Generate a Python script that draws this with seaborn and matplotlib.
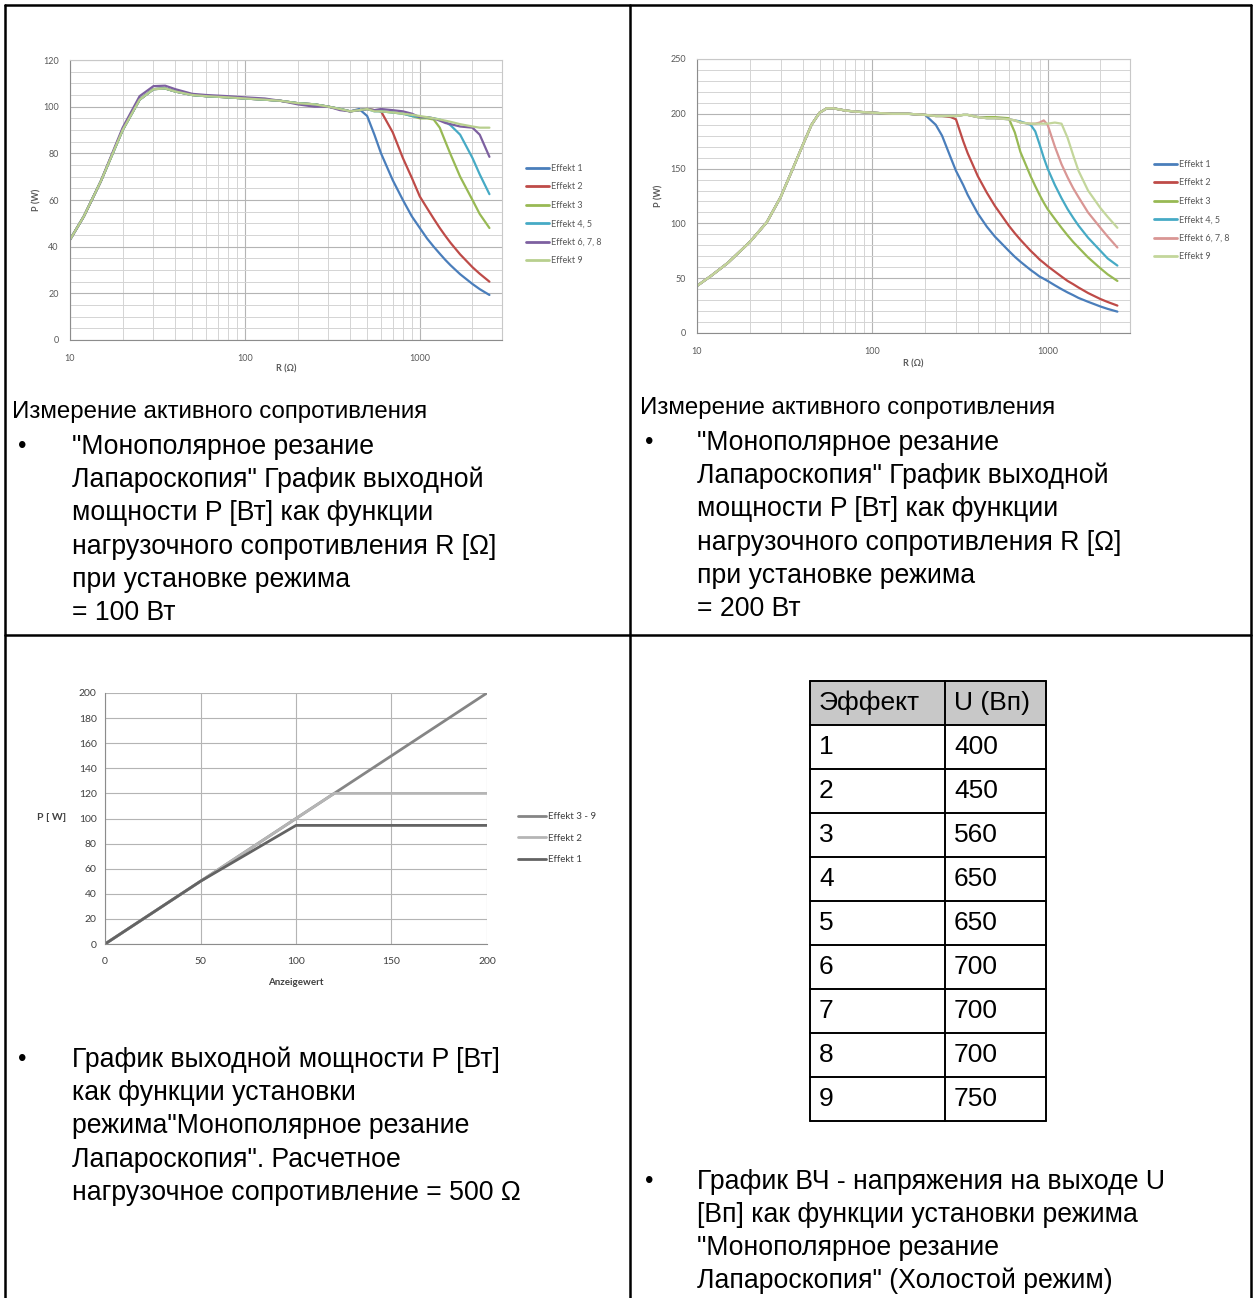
import matplotlib
matplotlib.use("Agg")
import matplotlib.pyplot as plt
from matplotlib.ticker import MultipleLocator, NullFormatter
from matplotlib.patches import Rectangle
import seaborn as sns
import pandas as pd

W, H = 1255, 1298

# ---- chart 1: P vs R at 100 W setting ----
r100_head = [10, 12, 15, 20, 25, 30, 35, 40, 50, 60, 80, 100, 130, 160, 200, 250, 300, 350, 400]
r100_tail = [450, 500, 550, 600, 700, 800, 900, 1000, 1100, 1200, 1300, 1400, 1500, 1700, 2000, 2200, 2500]
p100_head = [43, 53, 68, 90, 103, 107.5, 107.8, 106.5, 105, 104.5, 104, 103.5, 103, 102.5, 101.5, 101, 100, 99, 98]
p100_head_b = [43, 53, 68, 91, 104.5, 108.8, 109, 107.5, 105.5, 105, 104.5, 104, 103.5, 102.5, 101, 100, 100, 98.5, 98]
p100_e1 = [99, 96, 88, 80, 68.5, 60, 53, 48, 43.5, 40, 37, 34.3, 32, 28.2, 24, 21.8, 19.3]
p100_e2 = [98.5, 99, 98.5, 98, 89, 78, 69.5, 61.5, 56.5, 52, 48, 44.6, 41.6, 36.7, 31.2, 28.4, 25]
p100_e3 = [98.5, 99, 98.5, 98, 97.5, 97, 96, 95, 95, 94.5, 91, 85, 79.5, 70, 60, 54, 48]
p100_e45 = [98.5, 99, 98, 98, 97.5, 97, 96, 95.5, 95.5, 95, 94.5, 93.5, 92, 88, 78, 71, 62.5]
p100_e678 = [98.5, 99, 98.5, 99, 98.5, 98, 97, 95.5, 95.5, 95, 94, 93, 92.5, 91.5, 91, 88, 78.5]
p100_e9 = [98.5, 99, 98, 98, 97.5, 97, 96.5, 96, 95.5, 95, 94.5, 94, 93.5, 92.5, 91.5, 91, 91]

# ---- chart 2: P vs R at 200 W setting ----
r200_head = [10, 12, 15, 20, 25, 30, 35, 40, 45, 50, 55, 60, 70, 80, 100, 130, 160, 200]
r200_tail = [230, 250, 280, 300, 330, 350, 400, 450, 500, 600, 650, 700, 800, 850, 900, 950,
             1000, 1100, 1200, 1300, 1400, 1500, 1700, 2000, 2200, 2500]
p200_head = [43, 52, 64, 83, 101, 124, 149, 171, 190, 201, 205, 205, 203, 202, 201, 200, 200, 199]
p200_e1 = [190, 180, 160, 148, 135, 126, 109, 97, 88, 75, 69.5, 65, 57.5, 54.5, 51.5, 49.5,
           47.5, 43.5, 40, 37, 34.5, 32, 28.5, 24.2, 22, 19.5]
p200_e2 = [198, 198, 197, 195, 175, 164, 143, 128, 116, 98, 91, 85, 75, 71, 67, 64,
           61, 56, 51.5, 47.5, 44.5, 41.5, 36.5, 31, 28.3, 25]
p200_e3 = [198, 198, 198, 198, 199, 199, 197, 197, 197, 196, 183, 165, 143, 134, 126, 119,
           113, 104, 96, 89, 83, 78, 69, 59, 53.5, 47.5]
p200_e45 = [198, 198, 198, 198, 199, 199, 197, 196, 196, 195, 194, 193, 190, 184, 172, 160,
            150, 135, 123, 113, 105, 98, 87, 75, 68, 61.5]
p200_e678 = [198, 198, 198, 198, 199, 199, 197, 196, 196, 195, 194, 192, 191, 191, 192, 194,
             190, 170, 154, 142, 132, 124, 110, 96, 88, 78]
p200_e9 = [198, 198, 198, 198, 199, 199, 197, 196, 196, 195, 194, 192, 191, 191, 191, 191,
           191, 192, 191, 178, 162, 148, 130, 114, 106, 96]

effekt_names = ['Effekt 1', 'Effekt 2', 'Effekt 3', 'Effekt 4, 5', 'Effekt 6, 7, 8', 'Effekt 9']

# ---- chart 3: P vs Anzeigewert at 500 Ohm ----
anzeige = [0, 50, 100, 120, 150, 200]
p_e39 = [0, 50, 100, 120, 150, 200]
p_e2 = [0, 50, 100, 120, 120, 120]
p_e1 = [0, 50, 94.5, 94.5, 94.5, 94.5]

# ---- table ----
tab_header = ['Эффект', 'U (Вп)']
effekt_nr = ['1', '2', '3', '4', '5', '6', '7', '8', '9']
u_peak = ['400', '450', '560', '650', '650', '700', '700', '700', '750']

colors1 = ['#4a7ebb', '#be4b48', '#98b954', '#46aac5', '#7d60a0', '#b8cf8e']
colors2 = ['#4a7ebb', '#be4b48', '#98b954', '#46aac5', '#d99694', '#c3d69b']

sns.set_style("white")
plt.rcParams['font.family'] = ['Liberation Sans', 'DejaVu Sans']
plt.rcParams['text.color'] = 'black'
body_font = ['Liberation Sans', 'DejaVu Sans']
chart_font = ['Lato', 'DejaVu Sans']
tick_col = '#595959'

fig = plt.figure(figsize=(W / 100, H / 100), dpi=100)
page = fig.add_axes([0, 0, 1, 1])
page.set_xlim(0, W)
page.set_ylim(H, 0)
page.axis('off')


def px_axes(l, t, r, b):
    return fig.add_axes([l / W, 1 - b / H, (r - l) / W, (b - t) / H])


def long_df(xs, series, names, xname, yname):
    rows = []
    for name, ys in zip(names, series):
        for x, y in zip(xs, ys):
            rows.append((x, y, name))
    return pd.DataFrame(rows, columns=[xname, yname, 'Effekt'])


def style_log_chart(ax, ymax, ymajor, yminor):
    ax.set_xscale('log')
    ax.set_xlim(10, 2950)
    ax.set_ylim(0, ymax)
    ax.set_xticks([10, 100, 1000])
    ax.set_xticklabels(['10', '100', '1000'])
    ax.xaxis.set_minor_formatter(NullFormatter())
    ax.yaxis.set_major_locator(MultipleLocator(ymajor))
    ax.yaxis.set_minor_locator(MultipleLocator(yminor))
    ax.grid(which='major', color='#b4b4b4', lw=0.8)
    ax.grid(which='minor', color='#d4d4d4', lw=0.7)
    ax.set_axisbelow(True)
    for s in ax.spines.values():
        s.set_color('#c8c8c8')
        s.set_linewidth(0.8)
    ax.spines['left'].set_color('#8c8c8c')
    ax.spines['bottom'].set_color('#8c8c8c')
    ax.tick_params(which='major', axis='both', direction='out', length=3, width=0.7,
                   color='#8c8c8c', labelsize=6.5, labelcolor=tick_col, pad=5)
    ax.tick_params(which='minor', axis='x', length=0)
    ax.tick_params(which='minor', axis='y', length=0)
    ax.tick_params(axis='x', pad=7)
    for lab in ax.get_xticklabels() + ax.get_yticklabels():
        lab.set_family(chart_font)


def chart_legend(ax, x, y, spacing, fs, hl):
    handles, labels = ax.get_legend_handles_labels()
    leg = ax.legend(handles, labels, loc='upper left', bbox_to_anchor=(x, y),
                    bbox_transform=page.transData, frameon=False, fontsize=fs,
                    handlelength=hl, handletextpad=0.15, labelspacing=spacing,
                    borderpad=0, borderaxespad=0)
    for t in leg.get_texts():
        t.set_color(tick_col)
        t.set_family(chart_font)
    for h in leg.get_lines():
        h.set_linewidth(2)


# ---- chart 1 ----
ax1 = px_axes(70, 60, 502, 340)
r100 = r100_head + r100_tail
s100 = [p100_head + p100_e1, p100_head + p100_e2, p100_head + p100_e3,
        p100_head + p100_e45, p100_head_b + p100_e678, p100_head + p100_e9]
df1 = long_df(r100, s100, effekt_names, 'R', 'P')
sns.lineplot(data=df1, x='R', y='P', hue='Effekt', palette=colors1, estimator=None,
             linewidth=1.6, ax=ax1)
style_log_chart(ax1, 120, 20, 5)
ax1.set_xlabel('R (Ω)', fontsize=6.5, fontweight='bold', color=tick_col, family=chart_font)
ax1.set_ylabel('P (W)', fontsize=6.5, fontweight='bold', color=tick_col, family=chart_font)
ax1.xaxis.set_label_coords(0.5, -0.104)
ax1.xaxis.label.set_va('center')
ax1.yaxis.set_label_coords(-0.076, 0.5)
ax1.yaxis.label.set_va('center')
chart_legend(ax1, 526, 164, 1.05, 6.5, 2.6)

# ---- chart 2 ----
ax2 = px_axes(697, 59, 1130, 333)
r200 = r200_head + r200_tail
s200 = [p200_head + p200_e1, p200_head + p200_e2, p200_head + p200_e3,
        p200_head + p200_e45, p200_head + p200_e678, p200_head + p200_e9]
df2 = long_df(r200, s200, effekt_names, 'R', 'P')
sns.lineplot(data=df2, x='R', y='P', hue='Effekt', palette=colors2, estimator=None,
             linewidth=1.6, ax=ax2)
style_log_chart(ax2, 250, 50, 10)
ax2.set_xlabel('R (Ω)', fontsize=6.5, fontweight='bold', color=tick_col, family=chart_font)
ax2.set_ylabel('P (W)', fontsize=6.5, fontweight='bold', color=tick_col, family=chart_font)
ax2.xaxis.set_label_coords(0.5, -0.113)
ax2.xaxis.label.set_va('center')
ax2.yaxis.set_label_coords(-0.088, 0.5)
ax2.yaxis.label.set_va('center')
chart_legend(ax2, 1154, 160, 1.05, 6.5, 2.6)

# ---- chart 3 ----
ax3 = px_axes(105, 693, 487, 944)
df3 = long_df(anzeige, [p_e39, p_e2, p_e1], ['Effekt 3 - 9', 'Effekt 2', 'Effekt 1'],
              'Anzeigewert', 'P')
sns.lineplot(data=df3, x='Anzeigewert', y='P', hue='Effekt',
             palette=['#858585', '#b5b5b5', '#636363'], estimator=None, linewidth=2, ax=ax3)
ax3.set_xlim(0, 200)
ax3.set_ylim(0, 200)
ax3.xaxis.set_major_locator(MultipleLocator(50))
ax3.yaxis.set_major_locator(MultipleLocator(20))
ax3.grid(color='#b4b4b4', lw=0.8)
ax3.set_axisbelow(True)
ax3.spines['top'].set_visible(False)
ax3.spines['right'].set_visible(False)
ax3.spines['left'].set_color('#8c8c8c')
ax3.spines['bottom'].set_color('#8c8c8c')
ax3.tick_params(direction='out', length=3, width=0.7, color='#8c8c8c', labelsize=7.5,
                labelcolor='#404040', pad=3)
ax3.tick_params(axis='x', pad=6)
for lab in ax3.get_xticklabels() + ax3.get_yticklabels():
    lab.set_family(chart_font)
ax3.set_xlabel('Anzeigewert', fontsize=7, fontweight='bold', color='#404040', family=chart_font)
ax3.set_ylabel('P [ W]', fontsize=7.5, fontweight='bold', color='#404040', family=chart_font,
               rotation=0)
ax3.xaxis.set_label_coords(0.5, -0.155)
ax3.xaxis.label.set_va('center')
ax3.yaxis.set_label_coords(-0.14, 0.502)
ax3.yaxis.label.set_va('center')
chart_legend(ax3, 518, 812, 1.3, 7, 2.9)
for t in ax3.get_legend().get_texts():
    t.set_color('#404040')

# ---- page grid lines ----
lc = 'black'
page.plot([5, 5], [5, H + 5], color=lc, lw=1.8)
page.plot([1251, 1251], [5, H + 5], color=lc, lw=1.8)
page.plot([5, 1251], [5, 5], color=lc, lw=1.8)
page.plot([630, 630], [5, H + 5], color=lc, lw=1.8)
page.plot([5, 1251], [635, 635], color=lc, lw=1.8)

# ---- body text ----
fs_head = 17.3
fs_body = 19.2
fs_tab = 19


def bullet_block(xb, xt, y0, lines, step=33.2):
    page.text(xb, y0, '•', fontsize=fs_body * 0.9, va='center', ha='left', color='black',
              family=body_font)
    for i, s in enumerate(lines):
        page.text(xt, y0 + i * step, s, fontsize=fs_body, va='center', ha='left',
                  color='black', family=body_font)


page.text(12, 412, 'Измерение активного сопротивления', fontsize=fs_head, va='center',
          color='black', family=body_font)
bullet_block(18, 72, 447, ['"Монополярное резание', 'Лапароскопия" График выходной',
                           'мощности P [Вт] как функции', 'нагрузочного сопротивления R [Ω]',
                           'при установке режима', '= 100 Вт'])
page.text(640, 408, 'Измерение активного сопротивления', fontsize=fs_head, va='center',
          color='black', family=body_font)
bullet_block(645, 697, 443, ['"Монополярное резание', 'Лапароскопия" График выходной',
                             'мощности P [Вт] как функции', 'нагрузочного сопротивления R [Ω]',
                             'при установке режима', '= 200 Вт'])
bullet_block(18, 72, 1060, ['График выходной мощности P [Вт]', 'как функции установки',
                            'режима"Монополярное резание', 'Лапароскопия". Расчетное',
                            'нагрузочное сопротивление = 500 Ω'])
bullet_block(645, 697, 1182, ['График ВЧ - напряжения на выходе U',
                              '[Вп] как функции установки режима', '"Монополярное резание',
                              'Лапароскопия" (Холостой режим)'], step=32.8)

# ---- table ----
tl, tm, tr = 810, 945, 1046
tt, rh = 681, 44
nrows = len(effekt_nr) + 1
page.add_patch(Rectangle((tl, tt), tr - tl, rh, fc='#c8c8c8', ec='none', zorder=1))
for k in range(nrows + 1):
    page.plot([tl, tr], [tt + k * rh, tt + k * rh], color='black', lw=1.4, zorder=2)
for xv in (tl, tm, tr):
    page.plot([xv, xv], [tt, tt + nrows * rh], color='black', lw=1.4, zorder=2)
page.text(tl + 9, tt + rh / 2, tab_header[0], fontsize=fs_tab, va='center', color='black',
          family=body_font)
page.text(tm + 9, tt + rh / 2, tab_header[1], fontsize=fs_tab, va='center', color='black',
          family=body_font)
for i, (n, u) in enumerate(zip(effekt_nr, u_peak)):
    yc = tt + (i + 1.5) * rh
    page.text(tl + 9, yc, n, fontsize=fs_tab, va='center', color='black', family=body_font)
    page.text(tm + 9, yc, u, fontsize=fs_tab, va='center', color='black', family=body_font)

fig.savefig('out.png', dpi=100)
